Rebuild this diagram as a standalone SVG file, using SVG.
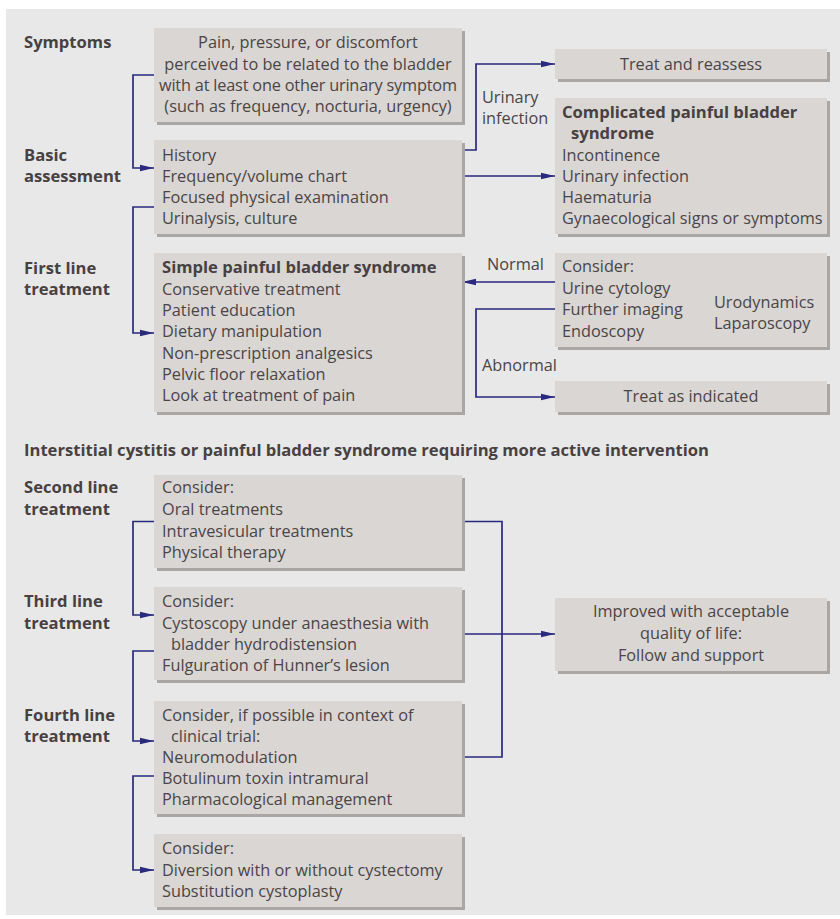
<svg xmlns="http://www.w3.org/2000/svg" width="840" height="919" viewBox="0 0 840 919">
<style>
.bg{fill:#e8e8e8}
.box{fill:#dad6d4}
.sh{fill:#aaa6a4}
text{font-family:"Open Sans","Noto Sans",sans-serif;font-size:16.3px;fill:#4a4546}
.b{font-weight:700;fill:#474142;font-size:16.6px}
.c{text-anchor:middle}
.con{fill:none;stroke:#29297e;stroke-width:1.7}
</style>
<defs>
<marker id="ah" markerUnits="userSpaceOnUse" markerWidth="16" markerHeight="10" viewBox="0 -5 16 10" refX="14" refY="0" orient="auto">
<path d="M0,-3.3 L14,0 L0,3.3 z" fill="#29297e"/>
</marker>
</defs>
<rect class="bg" x="6" y="9" width="834" height="906"/>

<g id="labels">
<text class="b" x="24" y="48">Symptoms</text>
<text class="b" x="24" y="161">Basic</text>
<text class="b" x="24" y="182">assessment</text>
<text class="b" x="24" y="274">First line</text>
<text class="b" x="24" y="295">treatment</text>
<text class="b" x="24" y="456">Interstitial cystitis or painful bladder syndrome requiring more active intervention</text>
<text class="b" x="24" y="493">Second line</text>
<text class="b" x="24" y="515">treatment</text>
<text class="b" x="24" y="607">Third line</text>
<text class="b" x="24" y="629">treatment</text>
<text class="b" x="24" y="721">Fourth line</text>
<text class="b" x="24" y="742">treatment</text>
</g>

<g id="connectors">
<path class="con" d="M154,75 H133 V168 H154" marker-end="url(#ah)"/>
<path class="con" d="M154,207 H133 V333 H154" marker-end="url(#ah)"/>
<path class="con" d="M462,150 H476 V64 H555" marker-end="url(#ah)"/>
<path class="con" d="M462,176 H555" marker-end="url(#ah)"/>
<path class="con" d="M555,282 H462" marker-end="url(#ah)"/>
<path class="con" d="M555,309 H476 V397 H555" marker-end="url(#ah)"/>
<path class="con" d="M154,521.5 H133 V615 H154" marker-end="url(#ah)"/>
<path class="con" d="M154,651 H133 V741 H154" marker-end="url(#ah)"/>
<path class="con" d="M154,776 H133 V870 H154" marker-end="url(#ah)"/>
<path class="con" d="M462,521.5 H502 V757 H462"/>
<path class="con" d="M462,634 H555" marker-end="url(#ah)"/>
<text x="482" y="103">Urinary</text>
<text x="482" y="124">infection</text>
<text x="487" y="270">Normal</text>
<text x="482" y="371">Abnormal</text>
</g>

<g id="symptoms">
<rect class="sh" x="157" y="31" width="308" height="94"/>
<rect class="box" x="154" y="28" width="308" height="94"/>
<text class="c" x="308" y="48">Pain, pressure, or discomfort</text>
<text class="c" x="308" y="69.5">perceived to be related to the bladder</text>
<text class="c" x="308" y="90.8" textLength="298">with at least one other urinary symptom</text>
<text class="c" x="308" y="112">(such as frequency, nocturia, urgency)</text>
</g>

<g id="basic">
<rect class="sh" x="157" y="143" width="308" height="94"/>
<rect class="box" x="154" y="140" width="308" height="94"/>
<text x="162" y="161">History</text>
<text x="162" y="182">Frequency/volume chart</text>
<text x="162" y="203">Focused physical examination</text>
<text x="162" y="224">Urinalysis, culture</text>
</g>

<g id="firstline">
<rect class="sh" x="157" y="256" width="308" height="159"/>
<rect class="box" x="154" y="253" width="308" height="159"/>
<text class="b" x="162" y="273.3">Simple painful bladder syndrome</text>
<text x="162" y="294.6">Conservative treatment</text>
<text x="162" y="315.9">Patient education</text>
<text x="162" y="337.2">Dietary manipulation</text>
<text x="162" y="358.5">Non-prescription analgesics</text>
<text x="162" y="379.8">Pelvic floor relaxation</text>
<text x="162" y="401">Look at treatment of pain</text>
</g>

<g id="treatreassess">
<rect class="sh" x="558" y="52" width="272" height="30"/>
<rect class="box" x="555" y="49" width="272" height="30"/>
<text class="c" x="691" y="70">Treat and reassess</text>
</g>

<g id="complicated">
<rect class="sh" x="558" y="101" width="272" height="136"/>
<rect class="box" x="555" y="98" width="272" height="136"/>
<text class="b" x="562" y="118">Complicated painful bladder</text>
<text class="b" x="571" y="139">syndrome</text>
<text x="562" y="161">Incontinence</text>
<text x="562" y="182">Urinary infection</text>
<text x="562" y="203">Haematuria</text>
<text x="562" y="224">Gynaecological signs or symptoms</text>
</g>

<g id="consider">
<rect class="sh" x="558" y="256" width="272" height="94"/>
<rect class="box" x="555" y="253" width="272" height="94"/>
<text x="562" y="272">Consider:</text>
<text x="562" y="294">Urine cytology</text>
<text x="562" y="315">Further imaging</text>
<text x="562" y="337">Endoscopy</text>
<text x="714" y="308">Urodynamics</text>
<text x="714" y="329">Laparoscopy</text>
</g>

<g id="treatindicated">
<rect class="sh" x="558" y="384" width="272" height="31"/>
<rect class="box" x="555" y="381" width="272" height="31"/>
<text class="c" x="691" y="402">Treat as indicated</text>
</g>

<g id="secondline">
<rect class="sh" x="157" y="478" width="308" height="93"/>
<rect class="box" x="154" y="475" width="308" height="93"/>
<text x="162" y="493.3">Consider:</text>
<text x="162" y="515">Oral treatments</text>
<text x="162" y="536.7">Intravesicular treatments</text>
<text x="162" y="557.7">Physical therapy</text>
</g>

<g id="thirdline">
<rect class="sh" x="157" y="590" width="308" height="93"/>
<rect class="box" x="154" y="587" width="308" height="93"/>
<text x="162" y="607">Consider:</text>
<text x="162" y="629">Cystoscopy under anaesthesia with</text>
<text x="171" y="650">bladder hydrodistension</text>
<text x="162" y="671">Fulguration of Hunner’s lesion</text>
</g>

<g id="fourthline">
<rect class="sh" x="157" y="704" width="308" height="113"/>
<rect class="box" x="154" y="701" width="308" height="113"/>
<text x="162" y="721">Consider, if possible in context of</text>
<text x="171" y="742">clinical trial:</text>
<text x="162" y="763">Neuromodulation</text>
<text x="162" y="784">Botulinum toxin intramural</text>
<text x="162" y="805">Pharmacological management</text>
</g>

<g id="fifthline">
<rect class="sh" x="157" y="837" width="308" height="73"/>
<rect class="box" x="154" y="834" width="308" height="73"/>
<text x="162" y="854">Consider:</text>
<text x="162" y="875.5">Diversion with or without cystectomy</text>
<text x="162" y="896.7">Substitution cystoplasty</text>
</g>

<g id="improved">
<rect class="sh" x="558" y="601" width="272" height="73"/>
<rect class="box" x="555" y="598" width="272" height="73"/>
<text class="c" x="691" y="617.3">Improved with acceptable</text>
<text class="c" x="691" y="639">quality of life:</text>
<text class="c" x="691" y="660.7">Follow and support</text>
</g>
</svg>
